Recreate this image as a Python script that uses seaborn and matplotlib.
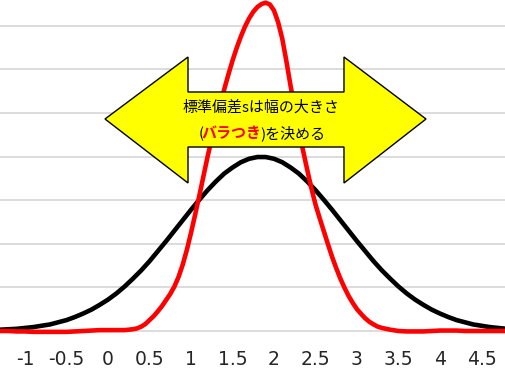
import numpy as np
import pandas as pd
import matplotlib
matplotlib.use("Agg")
import matplotlib.pyplot as plt
from matplotlib.patches import Polygon
from matplotlib.offsetbox import TextArea, HPacker, AnnotationBbox
import seaborn as sns

# black curve: x at 0.1 steps
black_x = [round(-1.3 + 0.1 * i, 1) for i in range(62)]
black_vals = [
    0.003, 0.004, 0.005, 0.007, 0.009, 0.012, 0.015, 0.020, 0.025, 0.032,
    0.040, 0.049, 0.060, 0.072, 0.086, 0.102, 0.120, 0.139, 0.160, 0.183,
    0.206, 0.230, 0.254, 0.278, 0.301, 0.323, 0.343, 0.361, 0.375, 0.387,
    0.395, 0.399, 0.399, 0.395, 0.387, 0.375, 0.361, 0.343, 0.323, 0.301,
    0.278, 0.254, 0.230, 0.206, 0.183, 0.160, 0.139, 0.120, 0.102, 0.086,
    0.072, 0.060, 0.049, 0.040, 0.032, 0.025, 0.020, 0.015, 0.012, 0.009,
    0.007, 0.005,
]

# red curve: read finer (0.05) where it bends sharply
red_x = ([round(-1.3 + 0.1 * i, 2) for i in range(16)]
         + [round(0.3 + 0.05 * i, 2) for i in range(61)]
         + [round(3.4 + 0.1 * i, 2) for i in range(15)])
red_vals = [
    # -1.3 .. 0.2
    0.000, 0.000, -0.001, -0.001, -0.002, -0.002, -0.002, -0.002, -0.002, -0.001,
    0.000, 0.001, 0.002, 0.002, 0.002, 0.002,
    # 0.30 .. 3.30
    0.004, 0.006, 0.010, 0.016, 0.025, 0.034, 0.045, 0.057, 0.071, 0.085,
    0.102, 0.124, 0.152, 0.186, 0.225, 0.267, 0.310, 0.355, 0.400, 0.441,
    0.480, 0.518, 0.554, 0.588, 0.620, 0.649, 0.675, 0.698, 0.717, 0.732,
    0.743, 0.750, 0.753, 0.749, 0.735, 0.708, 0.670, 0.618, 0.562, 0.510,
    0.460, 0.414, 0.370, 0.328, 0.290, 0.259, 0.229, 0.199, 0.170, 0.144,
    0.120, 0.099, 0.080, 0.064, 0.050, 0.039, 0.029, 0.021, 0.015, 0.010,
    0.007,
    # 3.4 .. 4.8
    0.003, 0.000, -0.001, -0.001, -0.001, 0.000, 0.001, 0.001, 0.001, 0.000,
    0.000, 0.000, 0.000, 0.000, 0.000,
]

tick_pos = [-1.5, -1, -0.5, 0, 0.5, 1, 1.5, 2, 2.5, 3, 3.5, 4, 4.5, 5]
tick_labels = ["-1.5", "-1", "-0.5", "0", "0.5", "1", "1.5", "2", "2.5",
               "3", "3.5", "4", "4.5", "5"]
grid_levels = [0.1, 0.2, 0.3, 0.4, 0.5, 0.6, 0.7, 0.8]

line1 = "標準偏差sは幅の大きさ"
line2_parts = ["(", "バラつき", ")を決める"]

sns.set_theme(style="white")
plt.rcParams["font.family"] = ["Noto Sans CJK JP", "DejaVu Sans"]

W, H = 506, 371
fig = plt.figure(figsize=(W / 100, H / 100), dpi=100)
# axes deliberately runs past the figure edges, like the cropped original
ax = fig.add_axes([-24.8 / W, 40 / H, 556.1 / W, 348.8 / H])

black_df = pd.DataFrame({"x": black_x, "y": black_vals})
red_df = pd.DataFrame({"x": red_x, "y": red_vals})
sns.lineplot(data=black_df, x="x", y="y", color="black", lw=3.3, ax=ax,
             zorder=3, clip_on=False, solid_joinstyle="round",
             solid_capstyle="round")
sns.lineplot(data=red_df, x="x", y="y", color="#ff0000", lw=3.3, ax=ax,
             zorder=4, clip_on=False, solid_joinstyle="round",
             solid_capstyle="round")

ax.set_xlim(-1.6, 5.1)
ax.set_ylim(0, 0.8)
for g in grid_levels:
    ax.axhline(g, color="#d9d9d9", lw=1.3, zorder=1)
ax.set_yticks([])
ax.set_xticks(tick_pos, tick_labels)
ax.tick_params(axis="x", length=0, pad=14, labelsize=13.5, labelcolor="#262626")
for lab in ax.get_xticklabels():
    lab.set_family("DejaVu Sans")
ax.set_xlabel("")
ax.set_ylabel("")
for side in ["top", "left", "right"]:
    ax.spines[side].set_visible(False)
ax.spines["bottom"].set_color("#d9d9d9")
ax.spines["bottom"].set_linewidth(1.3)

# yellow double arrow (pixel positions -> figure fraction)
arrow_px = [(105, 119), (188, 57), (188, 92), (344, 92), (344, 57),
            (426, 119), (344, 183), (344, 147), (188, 147), (188, 183)]
arrow = Polygon([(px / W, 1 - py / H) for px, py in arrow_px],
                closed=True, transform=fig.transFigure,
                facecolor="#ffff00", edgecolor="black", lw=1.0, zorder=10)
fig.add_artist(arrow)

fam = ["Noto Sans CJK JP", "DejaVu Sans"]
fig.text(261 / W, 1 - 107 / H, line1, ha="center", va="center",
         fontsize=10.8, family=fam, color="black", zorder=11)

parts = [
    TextArea(line2_parts[0], textprops=dict(fontsize=10.8, family=fam, color="black")),
    TextArea(line2_parts[1], textprops=dict(fontsize=10.8, family=fam, color="#ff0000",
                                            fontweight="bold")),
    TextArea(line2_parts[2], textprops=dict(fontsize=10.8, family=fam, color="black")),
]
box = HPacker(children=parts, align="baseline", pad=0, sep=-1.5)
ab = AnnotationBbox(box, (262 / W, 1 - 133 / H), xycoords="figure fraction",
                    frameon=False, box_alignment=(0.5, 0.5), zorder=11)
fig.add_artist(ab)

fig.savefig("out.png", dpi=100)
